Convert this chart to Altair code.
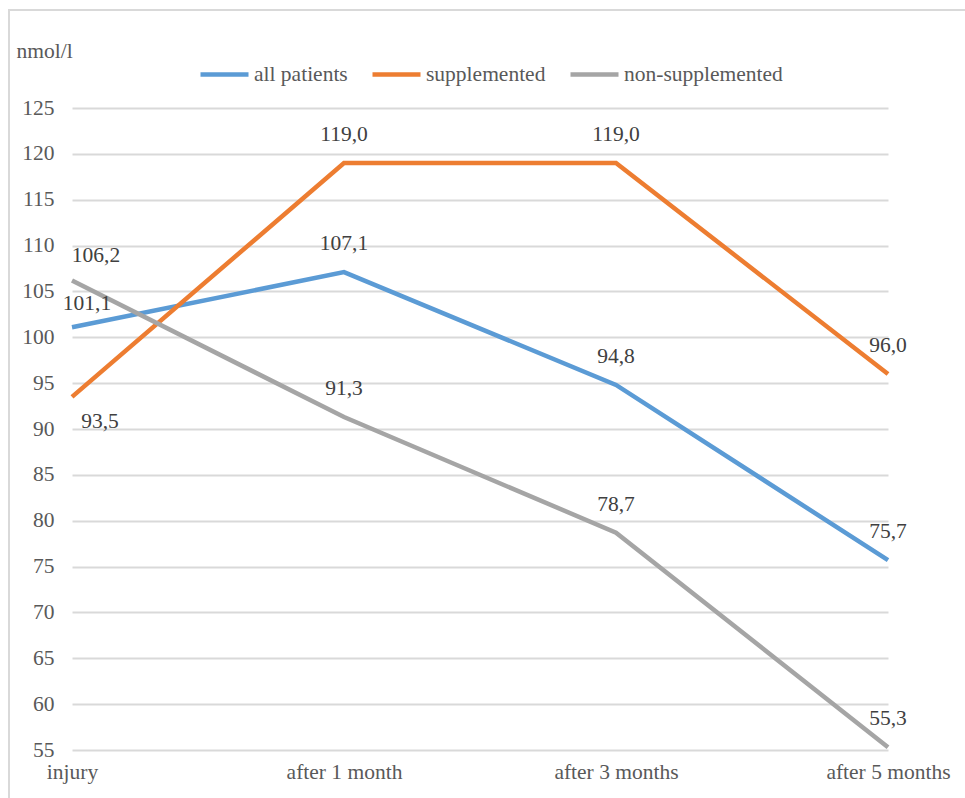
import altair as alt
import pandas as pd

# Vitamin D levels over time (nmol/l)
timepoints = ["injury", "after 1 month", "after 3 months", "after 5 months"]
series_names = ["all patients", "supplemented", "non-supplemented"]
all_patients = [101.1, 107.1, 94.8, 75.7]
supplemented = [93.5, 119.0, 119.0, 96.0]
non_supplemented = [106.2, 91.3, 78.7, 55.3]
series_colors = ["#5B9BD5", "#ED7D31", "#A5A5A5"]

rows = []
for order, (name, values) in enumerate(
    zip(series_names, [all_patients, supplemented, non_supplemented])
):
    for t, v in zip(timepoints, values):
        rows.append({"series": name, "time": t, "value": v, "order": order})
df = pd.DataFrame(rows)

FONT = "Liberation Serif"
FS = 21.5
TEXT = "#595959"
GRID = "#D9D9D9"
W, H = 816, 642
PAD = {"left": 72, "top": 108, "right": 965 - 72 - W, "bottom": 798 - 108 - H}

x_enc = alt.X(
    "time:N",
    sort=timepoints,
    scale=alt.Scale(type="point", padding=0),
    axis=alt.Axis(
        title=None, labelAngle=0, domain=False, ticks=False, grid=False,
        labelPadding=11, labelFont=FONT, labelFontSize=FS, labelColor=TEXT,
        labelOverlap=False, labelBound=False,
    ),
)
y_enc = alt.Y(
    "value:Q",
    scale=alt.Scale(domain=[55, 125], nice=False, zero=False),
    axis=alt.Axis(
        values=list(range(55, 126, 5)), grid=True, gridColor=GRID, gridWidth=2,
        domain=False, ticks=False, labelPadding=18, labelFont=FONT,
        labelFontSize=FS, labelColor=TEXT,
        title="nmol/l", titleAngle=0, titleAlign="left", titleBaseline="alphabetic",
        titleX=-56, titleY=-51, titleFont=FONT, titleFontSize=FS,
        titleFontWeight="normal", titleColor=TEXT,
    ),
)
color_enc = alt.Color(
    "series:N",
    sort=series_names,
    scale=alt.Scale(domain=series_names, range=series_colors),
    legend=alt.Legend(
        title=None, orient="none", direction="horizontal", legendX=126, legendY=-60,
        symbolType="stroke", symbolStrokeWidth=4.5, symbolSize=2304,
        labelFont=FONT, labelFontSize=FS, labelColor=TEXT, labelOffset=3,
        columnPadding=15,
    ),
)

base = alt.Chart(df)

frame = alt.Chart(pd.DataFrame({"k": [0]})).mark_rect(
    fill=None, stroke=GRID, strokeWidth=2
).encode(
    x=alt.value(-63), x2=alt.value(965), y=alt.value(-98), y2=alt.value(760)
)

lines = base.mark_line(strokeWidth=4.5).encode(
    x=x_enc, y=y_enc, color=color_enc, order="order:Q", detail="series:N"
)

label_text = alt.Text("label:N")
labels_common = dict(font=FONT, fontSize=FS, color="#404040", align="center", baseline="middle")

labels = base.transform_filter(alt.datum.time != "injury").transform_calculate(
    label="replace(format(datum.value, '.1f'), '.', ',')"
).mark_text(dy=-28, **labels_common).encode(x=x_enc, y=y_enc, text=label_text)


def injury_label(name, dx, dy):
    return base.transform_filter(
        (alt.datum.time == "injury") & (alt.datum.series == name)
    ).transform_calculate(
        label="replace(format(datum.value, '.1f'), '.', ',')"
    ).mark_text(dx=dx, dy=dy, **labels_common).encode(x=x_enc, y=y_enc, text=label_text)


chart = alt.layer(
    frame,
    lines,
    labels,
    injury_label("all patients", 15, -23),
    injury_label("supplemented", 28, 25),
    injury_label("non-supplemented", 24, -24),
).properties(
    width=W, height=H, padding=PAD, autosize=alt.AutoSizeParams(type="none"),
    background="white",
).configure_view(stroke=None)

chart.save("out.html", embed_options={"renderer": "svg", "actions": False})
